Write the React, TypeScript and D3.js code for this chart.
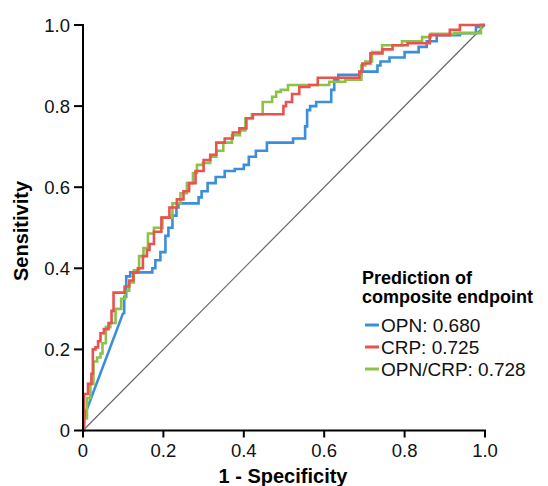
import React from "react";
import * as d3 from "d3";

// ROC points: [1 - specificity, sensitivity]
const opnPoints: [number, number][] = [
  [0, 0], [0.005, 0.04], [0.1, 0.29], [0.105, 0.33], [0.11, 0.38], [0.125, 0.39],
  [0.17, 0.39], [0.175, 0.4], [0.185, 0.42], [0.2, 0.44], [0.21, 0.48], [0.215, 0.5],
  [0.23, 0.53], [0.235, 0.55], [0.24, 0.56], [0.285, 0.56], [0.29, 0.575], [0.3, 0.59],
  [0.32, 0.61], [0.34, 0.625], [0.365, 0.64], [0.39, 0.645], [0.41, 0.655], [0.415, 0.675],
  [0.445, 0.69], [0.47, 0.71], [0.52, 0.71], [0.525, 0.72], [0.55, 0.72], [0.555, 0.75],
  [0.56, 0.79], [0.57, 0.8], [0.59, 0.81], [0.615, 0.81], [0.62, 0.84], [0.63, 0.865],
  [0.64, 0.877], [0.69, 0.877], [0.695, 0.885], [0.73, 0.885], [0.735, 0.9], [0.745, 0.91],
  [0.78, 0.92], [0.82, 0.933], [0.85, 0.946], [0.86, 0.96], [0.9, 0.975], [0.975, 0.98],
  [0.98, 0.995], [1, 1],
];

const crpPoints: [number, number][] = [
  [0, 0], [0.005, 0.09], [0.02, 0.115], [0.022, 0.14], [0.027, 0.2], [0.035, 0.205],
  [0.04, 0.22], [0.047, 0.24], [0.057, 0.25], [0.07, 0.265], [0.072, 0.295], [0.08, 0.34],
  [0.097, 0.34], [0.11, 0.355], [0.12, 0.37], [0.13, 0.39], [0.143, 0.4], [0.155, 0.43],
  [0.163, 0.445], [0.168, 0.46], [0.185, 0.49], [0.205, 0.525], [0.225, 0.55], [0.242, 0.57],
  [0.258, 0.59], [0.27, 0.61], [0.29, 0.64], [0.31, 0.667], [0.323, 0.68], [0.34, 0.71],
  [0.365, 0.72], [0.38, 0.735], [0.398, 0.745], [0.415, 0.77], [0.43, 0.78], [0.497, 0.78],
  [0.5, 0.8], [0.51, 0.81], [0.53, 0.83], [0.546, 0.847], [0.58, 0.852], [0.588, 0.87],
  [0.685, 0.87], [0.69, 0.885], [0.7, 0.905], [0.73, 0.93], [0.76, 0.94], [0.78, 0.95],
  [0.835, 0.955], [0.89, 0.975], [0.935, 0.988], [0.94, 1], [1, 1],
];

const comboPoints: [number, number][] = [
  [0, 0], [0.005, 0.03], [0.015, 0.08], [0.022, 0.115], [0.03, 0.17], [0.04, 0.18],
  [0.047, 0.19], [0.05, 0.215], [0.064, 0.255], [0.072, 0.265], [0.09, 0.3], [0.1, 0.325],
  [0.11, 0.345], [0.12, 0.365], [0.133, 0.395], [0.146, 0.43], [0.155, 0.45], [0.168, 0.486],
  [0.185, 0.5], [0.21, 0.525], [0.235, 0.56], [0.25, 0.585], [0.267, 0.61], [0.28, 0.635],
  [0.287, 0.655], [0.31, 0.66], [0.323, 0.675], [0.34, 0.69], [0.358, 0.71], [0.383, 0.728],
  [0.398, 0.74], [0.41, 0.77], [0.43, 0.78], [0.464, 0.81], [0.477, 0.823], [0.484, 0.835],
  [0.5, 0.84], [0.52, 0.852], [0.61, 0.852], [0.615, 0.86], [0.69, 0.865], [0.695, 0.9],
  [0.71, 0.91], [0.728, 0.933], [0.76, 0.95], [0.827, 0.96], [0.86, 0.97], [0.87, 0.978],
  [0.98, 0.98], [1, 1],
];

// the OPN curve runs straight (tied values) up to this point index, stepped after
const opnDiagonalEnd = 2;

const seriesNames = ["OPN", "CRP", "OPN/CRP"];
const aucValues = ["0.680", "0.725", "0.728"];
const seriesColors = ["#3a8edb", "#e8524f", "#8cc24a"];
const tickValues = [0, 0.2, 0.4, 0.6, 0.8, 1.0];
const tickLabels = ["0", "0.2", "0.4", "0.6", "0.8", "1.0"];

const W = 548;
const H = 486;
const font = "'Liberation Sans', Arial, Helvetica, sans-serif";

export default function App() {
  const x = d3.scaleLinear().domain([0, 1]).range([83, 485]);
  const y = d3.scaleLinear().domain([0, 1]).range([430.5, 25]);

  const straight = d3
    .line<[number, number]>()
    .x((d) => x(d[0]))
    .y((d) => y(d[1]));
  const stepped = straight.curve(d3.curveStep);
  const lineStraight = d3
    .line<[number, number]>()
    .x((d) => x(d[0]))
    .y((d) => y(d[1]));

  const paths = [
    (lineStraight(opnPoints.slice(0, opnDiagonalEnd + 1)) ?? "") +
      (stepped(opnPoints.slice(opnDiagonalEnd)) ?? ""),
    stepped(crpPoints) ?? "",
    stepped(comboPoints) ?? "",
  ];

  return (
    <div style={{ position: "fixed", left: 0, top: 0, width: W, height: H, background: "#fff" }}>
      <svg width={W} height={H} style={{ display: "block" }} fontFamily={font}>
        {/* reference diagonal */}
        <line x1={x(0)} y1={y(0)} x2={x(1)} y2={y(1)} stroke="#666" strokeWidth={1.2} />

        {/* curves: blue, green, then red on top */}
        {[0, 2, 1].map((i) => (
          <path
            key={seriesNames[i]}
            d={paths[i]}
            fill="none"
            stroke={seriesColors[i]}
            strokeWidth={2.6}
          />
        ))}

        {/* y axis */}
        <line x1={x(0)} y1={y(0) + 1} x2={x(0)} y2={y(1) - 1} stroke="#000" strokeWidth={2} />
        {tickValues.map((t, i) => (
          <g key={"y" + t}>
            <line x1={x(0) - 9} x2={x(0)} y1={y(t)} y2={y(t)} stroke="#000" strokeWidth={2} />
            <text x={x(0) - 13} y={y(t)} dy="0.36em" textAnchor="end" fontSize={18.5} fill="#111">
              {tickLabels[i]}
            </text>
          </g>
        ))}

        {/* x axis */}
        <line x1={x(0) - 1} y1={y(0)} x2={x(1) + 1} y2={y(0)} stroke="#000" strokeWidth={2} />
        {tickValues.map((t, i) => (
          <g key={"x" + t}>
            <line x1={x(t)} x2={x(t)} y1={y(0)} y2={y(0) + 7} stroke="#000" strokeWidth={2} />
            <text x={x(t)} y={457} textAnchor="middle" fontSize={18.5} fill="#111">
              {tickLabels[i]}
            </text>
          </g>
        ))}

        {/* axis titles */}
        <text x={283} y={483} textAnchor="middle" fontSize={20} fontWeight="bold" fill="#000">
          1 - Specificity
        </text>
        <text
          transform="translate(28,231) rotate(-90)"
          textAnchor="middle"
          fontSize={20}
          fontWeight="bold"
          fill="#000"
        >
          Sensitivity
        </text>

        {/* legend */}
        <text x={362} y={284} fontSize={18} fontWeight="bold" fill="#000">
          Prediction of
        </text>
        <text x={362} y={303} fontSize={18} fontWeight="bold" fill="#000">
          composite endpoint
        </text>
        {seriesNames.map((name, i) => (
          <g key={"leg" + name} transform={`translate(365,${325 + i * 22})`}>
            <line x1={0} x2={14} y1={0} y2={0} stroke={seriesColors[i]} strokeWidth={3} />
            <text x={16} y={0} dy="0.36em" fontSize={19} fill="#111">
              {`${name}: ${aucValues[i]}`}
            </text>
          </g>
        ))}
      </svg>
    </div>
  );
}
